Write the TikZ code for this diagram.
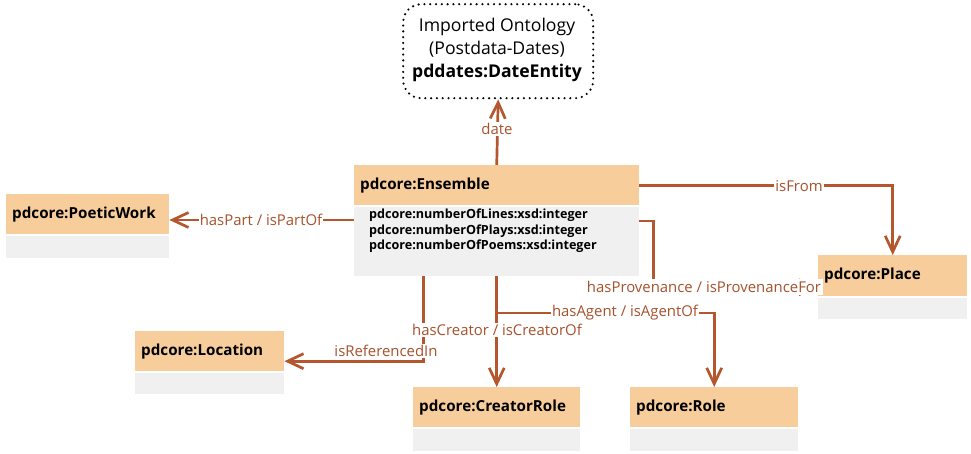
\documentclass[tikz,border=0pt]{standalone}
\usepackage{fontspec}
\setmainfont{Open Sans}
\usetikzlibrary{arrows.meta,calc}
\definecolor{hdrc}{RGB}{247,205,156}
\definecolor{bdyc}{RGB}{240,240,240}
\definecolor{lnc}{RGB}{180,86,46}
\definecolor{lbc}{RGB}{165,82,45}
\tikzset{
  hdr/.style={fill=hdrc, draw=none, anchor=north west, inner sep=0pt},
  bdy/.style={fill=bdyc, draw=none, anchor=north west, inner sep=0pt},
  ttl/.style={anchor=west, inner sep=0pt, font=\fontsize{15.2}{17}\selectfont\bfseries},
  attr/.style={anchor=north west, inner sep=0pt, align=left, font=\fontsize{12.6}{15.5}\selectfont\bfseries},
  conn/.style={draw=lnc, line width=2.7pt, -{Straight Barb[length=16pt,width=15pt,line width=2.7pt]}},
  lbl/.style={fill=white, text=lbc, inner xsep=1pt, inner ysep=1pt, font=\fontsize{14.9}{17}\selectfont},
}
\begin{document}
\begin{tikzpicture}[x=1pt,y=-1pt]
\useasboundingbox (0,0) rectangle (971,453);
% imported ontology
\node[draw=black, line width=2.4pt, dash pattern=on 0pt off 5.8pt, line cap=round, rounded corners=18pt,
  minimum width=190pt, minimum height=94pt, anchor=north west, inner sep=0pt] (imp) at (402,3) {};
\node[align=center, inner sep=0pt, font=\fontsize{17.6}{23}\selectfont] (impt) at (497,50)
  {Imported Ontology\\(Postdata-Dates)\\\textbf{pddates:DateEntity}};
% Ensemble
\node[hdr, minimum width=285pt, minimum height=40pt] (ens) at (354,165) {};
\node[ttl] (enst) at ([xshift=6pt]ens.west) {pdcore:Ensemble};
\node[bdy, minimum width=285pt, minimum height=69pt] (ensb) at (354,207) {};
\node[attr] (ensa) at (369,209) {pdcore:numberOfLines:xsd:integer\\pdcore:numberOfPlays:xsd:integer\\pdcore:numberOfPoems:xsd:integer};
% PoeticWork
\node[hdr, minimum width=163pt, minimum height=40pt] (pw) at (6,194) {};
\node[ttl] (pwt) at ([xshift=6pt]pw.west) {pdcore:PoeticWork};
\node[bdy, minimum width=163pt, minimum height=22pt] (pwb) at (6,236) {};
% Location
\node[hdr, minimum width=149pt, minimum height=40pt] (loc) at (135,331) {};
\node[ttl] (loct) at ([xshift=6pt]loc.west) {pdcore:Location};
\node[bdy, minimum width=149pt, minimum height=21pt] (locb) at (135,373) {};
% Place
\node[hdr, minimum width=149pt, minimum height=41pt] (pl) at (818,255) {};
\node[ttl] (plt) at ([xshift=6pt]pl.west) {pdcore:Place};
\node[bdy, minimum width=149pt, minimum height=21pt] (plb) at (818,298) {};
% CreatorRole
\node[hdr, minimum width=167pt, minimum height=40pt] (cr) at (413,387) {};
\node[ttl] (crt) at ([xshift=6pt]cr.west) {pdcore:CreatorRole};
\node[bdy, minimum width=167pt, minimum height=22pt] (crb) at (413,429) {};
% Role
\node[hdr, minimum width=168pt, minimum height=40pt] (ro) at (630,387) {};
\node[ttl] (rot) at ([xshift=6pt]ro.west) {pdcore:Role};
\node[bdy, minimum width=168pt, minimum height=22pt] (rob) at (630,429) {};
% connectors
\draw[conn] (ens.north) -- (imp.south);
\node[lbl] (ldate) at (497,129) {date};
\draw[conn] ([yshift=-13pt]ensb.north west) -- ([yshift=-13pt]ensb.north west -| pw.east);
\node[lbl] (lpart) at (261,220) {hasPart / isPartOf};
\draw[conn] (ens.east) -| (pl.north);
\node[lbl] (lfrom) at (799,186) {isFrom};
\draw[conn] ([yshift=-14pt]ensb.north east) -- ++(14,0) |- ([yshift=-11.5pt]pl.west);
\node[lbl, inner ysep=2.5pt, inner xsep=2pt] (lprov) at (704,287) {hasProvenance / isProvenanceFor};
\draw[conn] ([xshift=-73.5pt]ensb.south) |- ([yshift=-10pt]loc.east);
\node[lbl] (lref) at (386,351) {isReferencedIn};
\coordinate (j) at (ensb.south |- 0,313);
\draw[conn] (ensb.south) -- (cr.north);
\draw[conn] (j) -| (ro.north);
\node[lbl] (lcre) at (497,330) {hasCreator / isCreatorOf};
\node[lbl] (lag) at (625,313) {hasAgent / isAgentOf};
\end{tikzpicture}
\end{document}
